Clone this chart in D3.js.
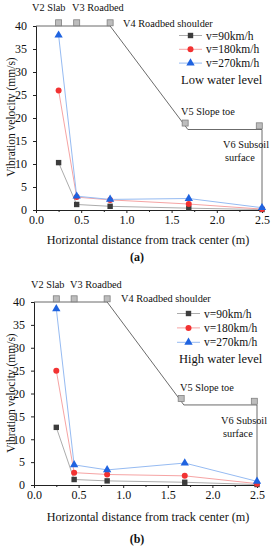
<!DOCTYPE html>
<html>
<head>
<meta charset="utf-8">
<script src="https://cdn.jsdelivr.net/npm/d3@7/dist/d3.min.js"></script>
<style>
  body { margin: 0; background: #fff; }
  svg text { font-family: "Liberation Serif", "Times New Roman", Times, serif; }
</style>
</head>
<body>
<svg id="chart" width="274" height="550"></svg>
<script>
// measuring points (m from track center)
const distances = [0.25, 0.45, 0.82, 1.69, 2.5];
const speeds = ['v=90km/h', 'v=180km/h', 'v=270km/h'];

// panel (a) low water level
const lowV90 = [10.3, 1.2, 0.8, 0.4, 0.1];
const lowV180 = [26.0, 2.8, 2.2, 1.3, 0.2];
const lowV270 = [38.0, 3.0, 2.3, 2.5, 0.5];

// panel (b) high water level
const highV90 = [12.6, 1.2, 0.9, 0.6, 0.1];
const highV180 = [25.0, 2.7, 2.3, 2.0, 0.3];
const highV270 = [38.5, 4.4, 3.3, 4.8, 0.8];

// embankment profile outline and sensor markers
const profileX = [0, 0.82, 1.68, 2.5, 2.5];
const profileY = [40, 40, 17.5, 17.5, 0];
const sensorX = [0.25, 0.45, 0.82, 1.65, 2.47];
const sensorY = [40.7, 40.7, 40.7, 18.9, 18.3];
const sensorNames = ['V2 Slab', 'V3 Roadbed', 'V4 Roadbed shoulder', 'V5 Slope toe', 'V6 Subsoil', 'surface'];

const xTicks = [0, 0.5, 1, 1.5, 2, 2.5];
const xMinor = [0.25, 0.75, 1.25, 1.75, 2.25];
const yTicks = [0, 5, 10, 15, 20, 25, 30, 35, 40];

const colors = {
  marker: ['#3c3c3c', '#f23232', '#1f63e0'],
  line: ['#acacac', '#f6a4a4', '#96bbf2']
};

const svg = d3.select('#chart');

function drawPanel(opt) {
  const x = d3.scaleLinear().domain([0, 2.5]).range([opt.left, opt.right]);
  const y = d3.scaleLinear().domain([0, 40]).range([opt.bottom, opt.top]);
  const g = svg.append('g');

  // profile of the embankment
  g.append('path')
    .datum(profileX.map((d, i) => [d, profileY[i]]))
    .attr('d', d3.line().x(d => x(d[0])).y(d => y(d[1])))
    .attr('fill', 'none')
    .attr('stroke', '#5a5a5a')
    .attr('stroke-width', 0.9);

  // axes
  const xAxis = g.append('g')
    .attr('transform', `translate(0,${opt.bottom})`)
    .call(d3.axisBottom(x).tickValues(xTicks).tickSize(3).tickPadding(2).tickFormat(d3.format('.1f')));
  g.append('g')
    .attr('transform', `translate(0,${opt.bottom})`)
    .call(d3.axisBottom(x).tickValues(xMinor).tickSize(2).tickFormat(''))
    .select('.domain').remove();
  const yAxis = g.append('g')
    .attr('transform', `translate(${opt.left},0)`)
    .call(d3.axisLeft(y).tickValues(yTicks).tickSize(3).tickPadding(6));
  [xAxis, yAxis].forEach(a => {
    a.attr('font-family', null);
    a.selectAll('text').attr('font-size', 12).attr('fill', '#111');
    a.select('.domain').attr('stroke', '#222');
  });
  g.selectAll('.tick line').attr('stroke', '#222');

  // sensor markers
  g.selectAll('.sensor')
    .data(sensorX)
    .enter()
    .append('rect')
    .attr('x', (d) => x(d) - 3)
    .attr('y', (d, i) => y(sensorY[i]) - 3)
    .attr('width', 6)
    .attr('height', 6)
    .attr('fill', '#bdbdbd')
    .attr('stroke', '#808080')
    .attr('stroke-width', 0.8);

  // sensor names
  const labels = g.append('g').attr('font-size', 10.3).attr('fill', '#111');
  opt.names.forEach((n, i) => {
    labels.append('text').attr('x', n[0]).attr('y', n[1]).text(sensorNames[i]);
  });

  // series
  opt.series.forEach((vals, s) => {
    const pts = distances.map((d, i) => [d, vals[i]]);
    g.append('path')
      .datum(pts)
      .attr('d', d3.line().x(d => x(d[0])).y(d => y(d[1])))
      .attr('fill', 'none')
      .attr('stroke', colors.line[s])
      .attr('stroke-width', 1);
    drawMarkers(g, pts.map(p => [x(p[0]), y(p[1])]), s);
  });

  // legend
  const lg = g.append('g').attr('font-size', 11.5).attr('fill', '#111');
  speeds.forEach((name, s) => {
    const ly = opt.legendY + s * opt.rowGap;
    lg.append('line')
      .attr('x1', opt.legendX).attr('x2', opt.legendX + 23)
      .attr('y1', ly).attr('y2', ly)
      .attr('stroke', colors.line[s]);
    drawMarkers(lg, [[opt.legendX + 11.5, ly]], s);
    lg.append('text').attr('x', opt.legendX + 27).attr('y', ly + 4).text(name);
  });
  g.append('text')
    .attr('x', opt.legendX + 2).attr('y', opt.titleY)
    .attr('font-size', 12.5).attr('fill', '#111')
    .text(opt.title);

  // axis titles
  g.append('text')
    .attr('transform', `translate(15,${opt.yLabelMid}) rotate(-90)`)
    .attr('text-anchor', 'middle')
    .attr('font-size', 11.5).attr('fill', '#111')
    .text('Vibration velocity (mm/s)');
  g.append('text')
    .attr('x', 148).attr('y', opt.xLabelY)
    .attr('text-anchor', 'middle')
    .attr('font-size', 12.2).attr('fill', '#111')
    .text('Horizontal distance from track center (m)');
  g.append('text')
    .attr('x', 137).attr('y', opt.tagY)
    .attr('text-anchor', 'middle')
    .attr('font-size', 12).attr('font-weight', 'bold').attr('fill', '#111')
    .text(opt.tag);
}

function drawMarkers(g, pts, s) {
  pts.forEach(p => {
    if (s === 0) {
      g.append('rect').attr('x', p[0] - 2.7).attr('y', p[1] - 2.7).attr('width', 5.4).attr('height', 5.4)
        .attr('fill', colors.marker[0]);
    } else if (s === 1) {
      g.append('circle').attr('cx', p[0]).attr('cy', p[1]).attr('r', 3)
        .attr('fill', colors.marker[1]);
    } else {
      g.append('path').attr('transform', `translate(${p[0]},${p[1]})`)
        .attr('d', d3.symbol(d3.symbolTriangle, 30)())
        .attr('fill', colors.marker[2]);
    }
  });
}

drawPanel({
  left: 36, right: 262, top: 26, bottom: 210,
  series: [lowV90, lowV180, lowV270],
  legendX: 179, legendY: 35.5, rowGap: 13.8, titleY: 84,
  title: 'Low water level', tag: '(a)',
  yLabelMid: 117, xLabelY: 244, tagY: 261,
  names: [[32, 11], [72, 11], [123, 26.5], [181, 114.5], [223, 148], [225, 160.5]]
});

drawPanel({
  left: 34, right: 257, top: 302, bottom: 485,
  series: [highV90, highV180, highV270],
  legendX: 177, legendY: 313.5, rowGap: 14.4, titleY: 363,
  title: 'High water level', tag: '(b)',
  yLabelMid: 393, xLabelY: 521, tagY: 543,
  names: [[31, 288], [70, 288], [121, 302], [180, 390.5], [221, 423.5], [223, 436.5]]
});
</script>
</body>
</html>
